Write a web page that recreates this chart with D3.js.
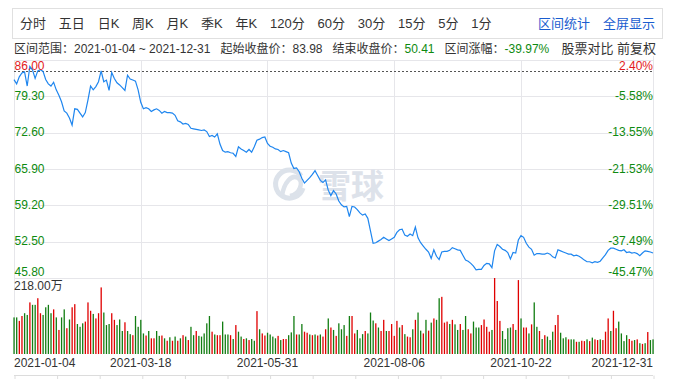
<!DOCTYPE html>
<html><head><meta charset="utf-8">
<script src="https://cdn.jsdelivr.net/npm/d3@7"></script>
<style>
html,body{margin:0;padding:0;background:#fff;}
svg{display:block;font-family:Arial,"Liberation Sans","Noto Sans CJK SC",sans-serif;}
</style></head><body>
<svg id="c" width="678" height="379"></svg>
<script>
// ---------- data ----------
const toolbarItems = ["分时","五日","日K","周K","月K","季K","年K","120分","60分","30分","15分","5分","1分"];
const toolbarLinks = ["区间统计","全屏显示"];
const rangeText = "区间范围：2021-01-04 ~ 2021-12-31";
const startLabel = "起始收盘价：", startPrice = "83.98";
const endLabel = "结束收盘价：", endPrice = "50.41";
const chgLabel = "区间涨幅：", chgValue = "-39.97%";
const rightOptions = ["股票对比","前复权"];
const basePrice = 83.98;
const priceTicks = [86.00, 79.30, 72.60, 65.90, 59.20, 52.50, 45.80];
const pctLabels = ["2.40%","-5.58%","-13.55%","-21.53%","-29.51%","-37.49%","-45.47%"];
const volMax = 218;
const volMaxLabel = "218.00万";
const dateTickIdx = [0, 48, 96, 144, 192, 242];
const dateTickLabels = ["2021-01-04","2021-03-18","2021-05-31","2021-08-06","2021-10-22","2021-12-31"];
const closes = [82.37,81.6,82.9,83.6,83.8,81.2,84.8,84.2,82.6,84.0,
84.2,83.9,82.4,81.6,81.2,81.9,80.5,79.5,78.3,76.6,
76.2,75.3,74.0,77.0,76.9,76.2,75.5,76.3,78.6,81.2,
80.5,81.1,82.0,84.0,82.0,82.3,80.4,83.7,82.6,81.8,
81.4,80.9,80.4,83.2,82.5,82.3,82.1,80.5,78.2,77.0,
77.2,77.0,76.5,76.8,77.0,76.7,76.2,76.5,76.3,76.3,
76.2,75.8,74.8,74.6,74.2,74.3,74.1,73.4,73.3,73.2,
73.1,73.0,73.1,72.8,71.9,72.1,71.8,72.4,70.5,69.3,
69.0,69.1,68.9,68.8,68.2,70.0,69.6,69.3,69.0,69.5,
69.0,70.0,71.2,71.4,71.7,71.8,70.6,70.1,69.9,69.6,
69.5,69.1,69.3,69.1,68.9,67.0,66.0,66.1,65.4,64.2,
63.3,63.8,64.3,64.9,65.6,64.7,63.8,63.4,63.9,62.0,
61.0,61.9,61.3,60.0,59.3,58.9,59.0,57.1,59.0,58.9,
58.4,57.8,57.4,57.6,56.8,54.5,52.2,52.3,52.6,52.9,
53.3,53.0,52.7,53.0,53.3,54.2,54.7,54.8,53.7,53.5,
53.9,53.6,55.2,53.2,52.3,51.7,51.1,50.6,49.4,51.0,
49.8,49.2,50.6,50.7,50.7,50.9,51.4,51.2,51.0,50.9,
50.0,49.1,48.9,48.5,48.0,47.3,47.4,47.4,48.1,48.5,
48.4,47.7,50.8,52.0,51.6,51.1,50.9,50.5,49.3,50.5,
50.4,52.8,53.6,53.3,52.2,51.5,51.1,50.0,50.3,50.3,
50.2,50.2,50.4,50.2,49.7,49.5,51.0,50.8,50.6,50.4,
50.2,50.2,49.9,50.0,49.8,49.5,49.1,48.8,48.8,48.6,
48.8,48.7,48.9,49.5,50.1,50.9,51.3,51.3,51.1,50.9,
50.8,51.0,50.5,50.6,50.4,50.5,50.3,49.9,50.4,50.8,
50.7,50.6,50.41];
const volumes = [105,105,95,109,117,112,148,141,141,160,
117,112,134,141,117,128,105,69,105,128,
74,99,134,143,86,78,88,93,148,124,
115,102,117,191,119,83,86,117,98,83,
99,66,91,66,57,54,109,78,98,59,
53,66,45,45,66,52,53,45,38,48,
38,50,38,45,54,50,40,78,54,66,
52,50,59,88,109,64,56,54,54,93,
56,56,54,43,83,64,50,43,45,40,
43,38,123,71,59,53,61,56,50,45,
52,40,43,43,54,62,109,56,56,86,
64,61,56,54,56,53,56,50,71,102,
76,69,52,88,
71,83,52,109,109,59,69,45,57,66,
59,119,96,88,76,66,98,66,66,86,
52,95,76,83,57,50,48,71,98,119,
67,59,98,67,90,102,98,160,164,90,
93,86,98,85,69,86,69,109,71,59,
93,76,76,83,99,78,64,69,218,152,
95,66,43,74,76,86,69,212,102,76,
76,59,85,148,78,66,43,54,50,40,
64,83,112,61,45,48,42,42,42,35,
35,38,37,42,37,47,42,40,42,40,
64,102,66,124,74,93,59,37,54,43,
38,40,42,31,29,31,63,40,42];
const volUp = [0,0,1,1,0,0,1,0,0,1,
1,0,0,0,0,1,0,1,0,0,
1,0,1,1,0,0,0,1,1,1,
0,1,1,1,0,0,0,1,1,0,
0,0,1,0,0,1,0,0,0,0,
1,0,1,1,0,0,1,0,1,0,
1,0,1,0,1,0,1,0,0,1,
0,0,0,0,0,1,0,1,1,0,
0,0,1,0,1,0,0,1,0,1,
0,0,1,0,1,1,0,0,0,0,
1,0,1,1,0,0,0,1,0,0,
1,1,0,1,0,1,0,1,1,0,
1,0,1,0,
0,0,1,0,1,1,0,0,0,1,
0,0,0,1,0,1,1,0,1,1,
1,1,0,1,0,1,1,0,1,0,
0,1,0,1,0,1,0,0,1,1,
1,0,1,0,0,1,0,0,1,1,
0,0,0,1,1,1,1,0,1,1,
1,0,0,0,0,1,0,1,0,1,
1,0,1,0,0,1,0,1,0,0,
0,1,1,0,0,0,1,0,0,1,
0,1,1,0,1,0,1,1,0,1,
1,1,0,1,1,0,0,0,0,1,
1,0,1,0,1,0,1,0,0];

// ---------- layout ----------
const RED = "#e3191c", GREEN = "#0e8a10", GRID = "#e6e6ea", BLUE = "#1f86ef";
const L = 14, R = 653, T = 60, PB = 278, VB = 354;
const svg = d3.select("#c");

const x = d3.scaleLinear().domain([0, closes.length - 1]).range([L, R]);
const y = d3.scaleLinear().domain([d3.min(priceTicks), d3.max(priceTicks)]).range([PB, T]);
const vy = d3.scaleLinear().domain([0, volMax]).range([VB, PB]);

// toolbar
svg.append("rect").attr("x", 12.5).attr("y", 8.5).attr("width", 650).attr("height", 30)
  .attr("fill", "#fff").attr("stroke", "#e0e0e0");
let tx = 20;
toolbarItems.forEach(t => {
  const el = svg.append("text").attr("x", tx).attr("y", 28).attr("font-size", 13)
    .attr("fill", "#333").text(t);
  tx += el.node().getComputedTextLength() + 12.8;
});
svg.append("text").attr("x", 655).attr("y", 28).attr("font-size", 13).attr("text-anchor", "end")
  .attr("fill", "#1a5dcf").text(toolbarLinks[1]);
svg.append("text").attr("x", 590).attr("y", 28).attr("font-size", 13).attr("text-anchor", "end")
  .attr("fill", "#1a5dcf").text(toolbarLinks[0]);

// info line
const info = svg.append("text").attr("x", 14).attr("y", 52.5).attr("font-size", 12).attr("fill", "#333")
  .attr("xml:space", "preserve");
info.append("tspan").text(rangeText);
info.append("tspan").attr("dx", 10).text(startLabel + startPrice);
info.append("tspan").attr("dx", 10).text(endLabel);
info.append("tspan").attr("fill", GREEN).text(endPrice);
info.append("tspan").attr("dx", 10).text(chgLabel);
info.append("tspan").attr("fill", GREEN).text(chgValue);
svg.append("text").attr("x", 656).attr("y", 53).attr("font-size", 13).attr("text-anchor", "end")
  .attr("fill", "#333").text(rightOptions[0] + " " + rightOptions[1]);

// grid
const g = svg.append("g");
g.selectAll("line.h").data(priceTicks).join("line")
  .attr("x1", L).attr("x2", R).attr("y1", d => Math.round(y(d)) + 0.5).attr("y2", d => Math.round(y(d)) + 0.5)
  .attr("stroke", GRID);
g.selectAll("line.v").data(dateTickIdx).join("line")
  .attr("x1", d => Math.round(x(d)) + 0.5).attr("x2", d => Math.round(x(d)) + 0.5)
  .attr("y1", T).attr("y2", VB).attr("stroke", GRID);
g.append("line").attr("x1", R + 0.5).attr("x2", R + 0.5).attr("y1", 56).attr("y2", VB).attr("stroke", GRID);
// navigator strip at the bottom
g.append("line").attr("x1", L).attr("x2", R).attr("y1", 375.5).attr("y2", 375.5).attr("stroke", "#dcdcdc");
g.selectAll("line.nt").data(d3.range(0, 16)).join("line")
  .attr("x1", d => L + 1 + d * (R - L) / 15).attr("x2", d => L + 1 + d * (R - L) / 15)
  .attr("y1", 375.5).attr("y2", 379).attr("stroke", "#dcdcdc");

// watermark
const wm = svg.append("g").attr("fill", "none").attr("stroke", "#dce2ea");
wm.append("path").attr("stroke-width", 5).attr("d", "M301,176 A14,14 0 1,0 303,188");
wm.append("path").attr("stroke-width", 4.5)
  .attr("d", "M282,196 C284,182 292,174 298,178 C304,182 300,194 290,196");
svg.append("text").attr("x", 318).attr("y", 198).attr("font-size", 33).attr("font-weight", "bold")
  .attr("fill", "#dde2ea").attr("font-family", "'Noto Sans CJK SC',sans-serif").text("雪球");

// base dashed line
svg.append("line").attr("x1", L).attr("x2", R).attr("y1", Math.round(y(basePrice)) + 0.5)
  .attr("y2", Math.round(y(basePrice)) + 0.5).attr("stroke", "#555").attr("stroke-dasharray", "2,2");

// volume bars
svg.append("g").selectAll("rect").data(volumes).join("rect")
  .attr("x", (d, i) => x(i) - 0.6).attr("width", 1.3)
  .attr("y", d => vy(d)).attr("height", d => VB - vy(d))
  .attr("fill", (d, i) => volUp[i] ? "#e00000" : "#127d12");

// price line
svg.append("path").datum(closes)
  .attr("d", d3.line().x((d, i) => x(i)).y(d => y(d)))
  .attr("fill", "none").attr("stroke", BLUE).attr("stroke-width", 1.2);

// price labels
const n = priceTicks.length;
const labY = (d, i) => i === 0 ? y(d) + 10 : (i === n - 1 ? y(d) - 2 : y(d) + 3.5);
svg.append("g").selectAll("text").data(priceTicks).join("text")
  .attr("x", L + 0.5).attr("y", labY).attr("font-size", 12)
  .attr("fill", (d, i) => d > basePrice ? RED : GREEN).text(d => d.toFixed(2));
svg.append("g").selectAll("text").data(pctLabels).join("text")
  .attr("x", R).attr("y", (d, i) => labY(priceTicks[i], i)).attr("font-size", 12).attr("text-anchor", "end")
  .attr("fill", (d, i) => priceTicks[i] > basePrice ? RED : GREEN).text(d => d);

// volume label
svg.append("text").attr("x", L).attr("y", 289.5).attr("font-size", 12).attr("fill", "#333").text(volMaxLabel);

// date labels
const dl = dateTickLabels.length;
svg.append("g").selectAll("text").data(dateTickLabels).join("text")
  .attr("x", (d, i) => x(dateTickIdx[i]))
  .attr("y", 367).attr("font-size", 12).attr("fill", "#333")
  .attr("text-anchor", (d, i) => i === 0 ? "start" : (i === dl - 1 ? "end" : "middle"))
  .text(d => d);
</script></body></html>
